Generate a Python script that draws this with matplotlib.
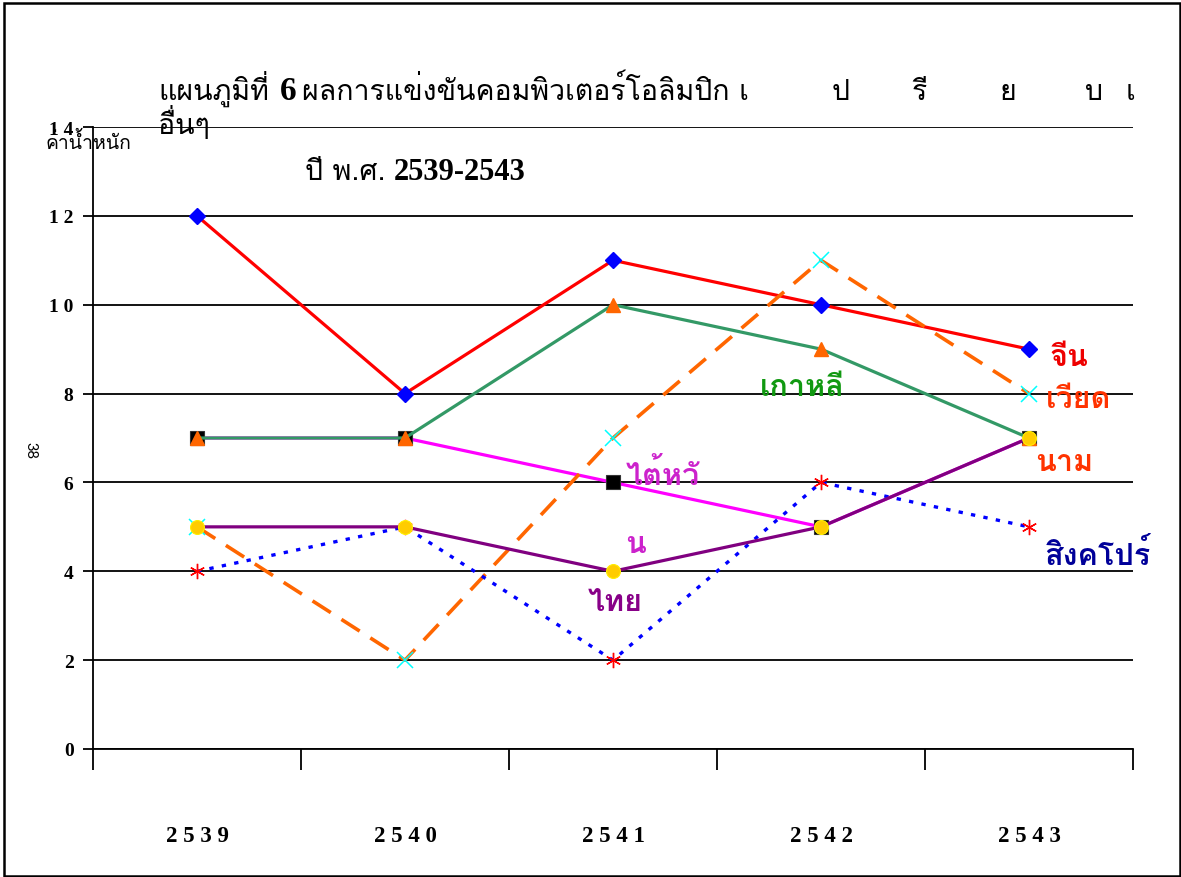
import matplotlib
matplotlib.use("Agg")
import matplotlib.pyplot as plt
from matplotlib.patches import Rectangle
import numpy as np

W, H = 1181, 878

# ปี พ.ศ.
years = ['2539', '2540', '2541', '2542', '2543']

# คะแนนแต่ละประเทศ
china = [12, 8, 11, 10, 9]
korea = [7, 7, 10, 9, 7]
taiwan = [7, 7, 6, 5, 7]
thailand = [5, 5, 4, 5, 7]
vietnam = [5, 2, 7, 11, 8]
singapore = [4, 5, 2, 6, 5]

THAI = 'Loma'
SERIF = 'Liberation Serif'

fig = plt.figure(figsize=(W / 100, H / 100), dpi=100)
ax = fig.add_axes([93 / W, 1 - 750 / H, (1133 - 93) / W, (750 - 128) / H])

x = np.arange(len(years)) + 0.5

# เส้นกราฟ (ลำดับการวาดให้จุดทับกันเหมือนใน Excel)
ax.plot(x, taiwan, color='#FF00FF', lw=2.3, marker='s', ms=10,
        mfc='black', mec='#333333', mew=0.8, zorder=3)
ax.plot(x, korea, color='#339966', lw=2.3, marker='^', ms=10,
        mfc='#FF6600', mec='#FF6600', zorder=4)
ax.plot(x, china, color='#FF0000', lw=2.3, marker='D', ms=8,
        mfc='#0000FF', mec='#0000FF', zorder=5)
ax.plot(x, vietnam, color='#FF6600', lw=2.6, ls=(0, (6, 3.5)), marker='x', ms=11,
        mec='#00FFFF', mew=1.1, zorder=6)
ax.plot(x, singapore, color='#0000FF', lw=2.4, ls=(0, (1.3, 2.5)), marker=(6, 2, 0), ms=11,
        mec='#FF0000', mew=1.0, zorder=7)
ax.plot(x, thailand, color='#800080', lw=2.3, marker='o', ms=10,
        mfc='#FFCC00', mec='#FFEE00', mew=0.8, zorder=8)

ax.set_xlim(0, 5)
ax.set_ylim(0, 14)
yt = np.arange(0, 15, 2)
ax.set_yticks(yt)
ax.set_yticklabels([' '.join(str(v)) for v in yt], fontfamily=SERIF,
                   fontweight='bold', fontsize=14)
ax.yaxis.grid(True, color='black', lw=1.3)
ax.set_axisbelow(True)

ax.set_xticks(np.arange(0, 6))
ax.set_xticklabels([])
ax.set_xticks(x, minor=True)
ax.set_xticklabels([' '.join(y) for y in years], minor=True, fontfamily=SERIF,
                   fontweight='bold', fontsize=16.5)
ax.tick_params(axis='x', which='major', length=15, width=1.3, direction='out')
ax.tick_params(axis='x', which='minor', length=0, pad=55)
ax.tick_params(axis='y', length=7, width=1.3, direction='out', pad=7)

for s in ['top', 'right']:
    ax.spines[s].set_visible(False)
ax.spines['left'].set_linewidth(1.3)
ax.spines['bottom'].set_linewidth(1.3)
ax.spines['left'].set_bounds(0, 14)

# ชื่อประเทศกำกับเส้น
labels = [
    ('จีน', 4.69, 8.82, '#EE0000'),
    ('เวียด', 4.74, 7.88, '#FF3300'),
    ('นาม', 4.67, 6.46, '#FF3300'),
    ('สิงคโปร์', 4.83, 4.39, '#000099'),
    ('เกาหลี', 3.41, 8.15, '#119911'),
    ('ไต้หวั', 2.74, 6.19, '#CC22CC'),
    ('น', 2.61, 4.61, '#CC22CC'),
    ('ไทย', 2.51, 3.31, '#880088'),
]
for txt, lx, ly, c in labels:
    ax.text(lx, ly, txt, color=c, fontfamily=THAI, fontweight='bold',
            fontsize=22, ha='center', va='center', clip_on=False, zorder=10)

def ftext(px, py, s, **kw):
    fig.text(px / W, 1 - py / H, s, va='baseline', **kw)

# หัวเรื่อง
ftext(158, 100, 'แผนภูมิที่', fontfamily=THAI, fontsize=20.5)
ftext(280, 100, '6', fontfamily=SERIF, fontweight='bold', fontsize=24)
ftext(302, 100, 'ผลการแข่งขันคอมพิวเตอร์โอลิมปิก เ', fontfamily=THAI, fontsize=20.5)
for px, ch in [(832, 'ป'), (912, 'รี'), (1000, 'ย'), (1085, 'บ'), (1126, 'เ')]:
    ftext(px, 100, ch, fontfamily=THAI, fontsize=20.5)
ftext(158, 134, 'อื่นๆ', fontfamily=THAI, fontsize=20.5)
ftext(305, 180, 'ปี พ.ศ.', fontfamily=THAI, fontsize=20.5)
ftext(394, 180, '2539-2543', fontfamily=SERIF, fontweight='bold', fontsize=22)

ftext(45, 149, 'ค่าน้ำหนัก', fontfamily=THAI, fontsize=14)
fig.text(30 / W, 1 - 450 / H, '38', rotation=270, fontfamily=THAI, fontsize=11,
         ha='center', va='center')

# กรอบรอบรูป
fig.patches.append(Rectangle((4 / W, 1 / H), 1 - 5 / W, 1 - 5 / H, transform=fig.transFigure,
                             fill=False, edgecolor='black', lw=1.8))

fig.savefig('out.png', dpi=100)
